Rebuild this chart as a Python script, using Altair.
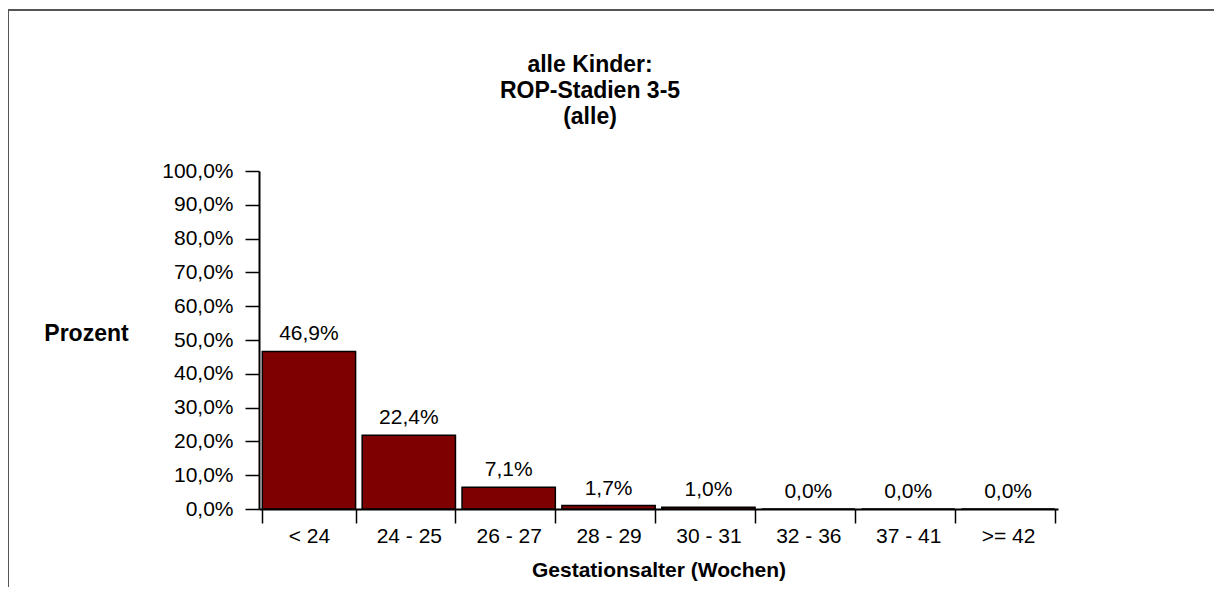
import altair as alt
import pandas as pd

categories = ["< 24", "24 - 25", "26 - 27", "28 - 29", "30 - 31", "32 - 36", "37 - 41", ">= 42"]
bar_values = [46.6, 21.8, 6.4, 1.0, 0.5, 0.0, 0.0, 0.0]
value_labels = ["46,9%", "22,4%", "7,1%", "1,7%", "1,0%", "0,0%", "0,0%", "0,0%"]
y_ticks = [0, 10, 20, 30, 40, 50, 60, 70, 80, 90, 100]
title_lines = ["alle Kinder:", "ROP-Stadien 3-5", "(alle)"]

df = pd.DataFrame({"cat": categories, "val": bar_values, "lab": value_labels})

FONT = "Liberation Sans"

x_enc = alt.X(
    "cat:N",
    sort=categories,
    scale=alt.Scale(paddingInner=0.066, paddingOuter=0.033),
    axis=alt.Axis(
        title="Gestationsalter (Wochen)",
        labelAngle=0,
        tickBand="extent",
        tickSize=14,
        tickColor="black",
        tickWidth=1.5,
        domainColor="black",
        domainWidth=2,
        labelFont=FONT,
        labelFontSize=21,
        labelColor="black",
        labelPadding=2,
        labelOverlap=False,
        titleFont=FONT,
        titleFontSize=21,
        titleFontWeight="bold",
        titleColor="black",
        titlePadding=13,
    ),
)

y_enc = alt.Y(
    "val:Q",
    scale=alt.Scale(domain=[0, 100], nice=False),
    axis=alt.Axis(
        values=y_ticks,
        labelOverlap=False,
        labelExpr="replace(format(datum.value, '.1f'), '.', ',') + '%'",
        title="Prozent",
        titleAngle=0,
        titleX=-173,
        titleY=162,
        titleAlign="center",
        titleBaseline="middle",
        titleFont=FONT,
        titleFontSize=23,
        titleFontWeight="bold",
        titleColor="black",
        tickSize=14,
        tickColor="black",
        tickWidth=1.5,
        domainColor="black",
        domainWidth=2,
        labelFont=FONT,
        labelFontSize=21,
        labelColor="black",
        labelPadding=12,
        grid=False,
    ),
)

base = alt.Chart(df)

bars = base.mark_bar(color="#7f0000", stroke="black", strokeWidth=1.5).encode(x=x_enc, y=y_enc)

texts = base.mark_text(
    font=FONT, fontSize=21, color="black", baseline="middle", dy=-17
).encode(x=x_enc, y=y_enc, text="lab:N")

title_mark = alt.Chart(alt.Data(values=[{}])).mark_text(
    font=FONT, fontSize=23, fontWeight="bold", color="black",
    align="center", baseline="middle", lineHeight=26,
).encode(
    x=alt.value(331),
    y=alt.value(-106),
    text=alt.value(title_lines),
)

frame = alt.Chart(alt.Data(values=[{}])).mark_rect(
    fill="transparent", stroke="#555555", strokeWidth=2
).encode(
    x=alt.value(-251),
    y=alt.value(-161),
    x2=alt.value(980),
    y2=alt.value(450),
)

chart = (
    alt.layer(frame, bars, texts, title_mark)
    .properties(
        width=799,
        height=338,
        background="white",
        autosize=alt.AutoSizeParams(type="none"),
        padding={"left": 251, "top": 163, "right": 156, "bottom": 78},
    )
    .configure_view(strokeWidth=0, stroke="transparent")
)

chart.save("out.html", embed_options={"renderer": "svg", "actions": False})
